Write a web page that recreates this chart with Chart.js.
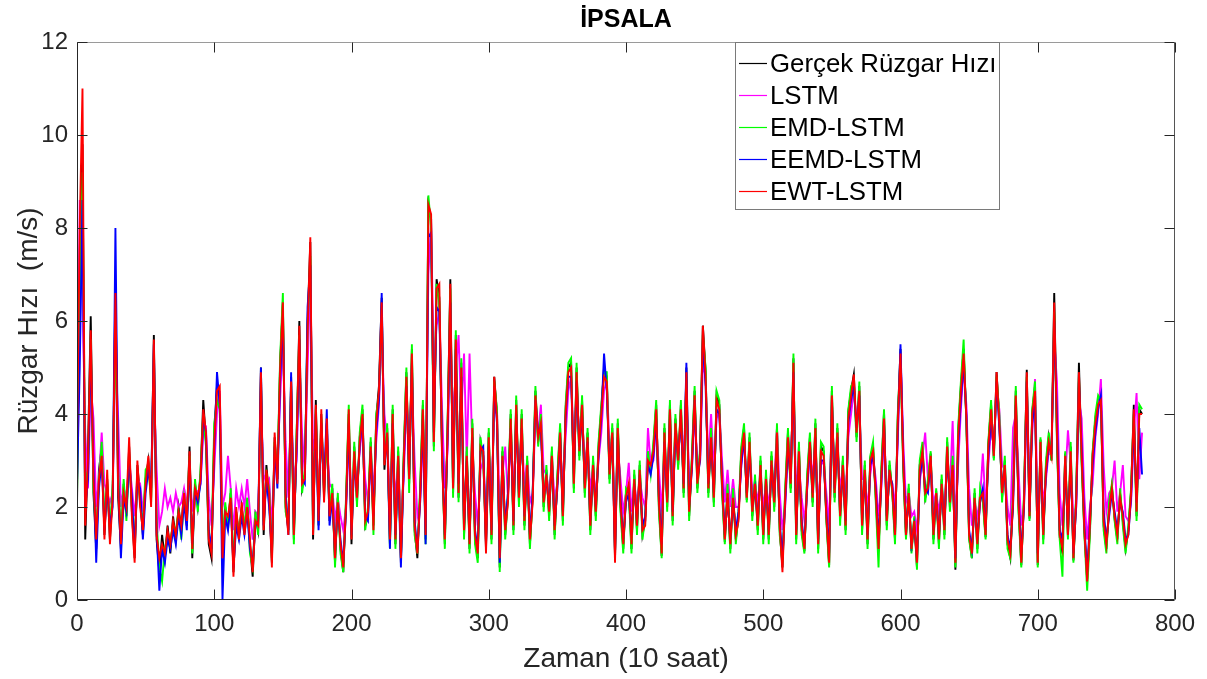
<!DOCTYPE html>
<html><head><meta charset="utf-8">
<script src="https://cdn.jsdelivr.net/npm/chart.js@4.4.1/dist/chart.umd.min.js"></script>
<style>html,body{margin:0;padding:0;background:#fff;}canvas{display:block;}</style>
</head><body>
<canvas id="c" width="1207" height="679"></canvas>
<script>
// ---- text ----
const chartTitle = 'İPSALA';
const xAxisTitle = 'Zaman (10 saat)';
const yAxisTitle = 'Rüzgar Hızı  (m/s)';
const seriesNames = ['Gerçek Rüzgar Hızı', 'LSTM', 'EMD-LSTM', 'EEMD-LSTM', 'EWT-LSTM'];
// ---- ticks ----
const xTickValues = [0, 100, 200, 300, 400, 500, 600, 700, 800];
const yTickValues = [0, 2, 4, 6, 8, 10, 12];
// time index of the n-th sample = n * timeStep (10 h units)
const timeStep = 2;
// ---- series (m/s) ----
const actualSpeed = [
2.0,7.5,9.8,1.3,3.2,6.1,2.3,1.1,2.8,3.3,
1.4,2.6,1.3,2.3,6.8,2.2,1.1,2.5,1.8,3.3,
1.9,0.9,2.9,2.2,1.4,2.6,3.0,2.2,5.7,1.3,
0.6,1.4,0.9,1.6,1.0,1.8,1.3,2.0,1.5,2.4,
1.6,3.3,0.9,2.5,2.0,2.7,4.3,3.4,1.2,0.9,
3.6,4.6,4.4,0.9,2.0,1.6,2.3,0.6,1.9,1.4,
2.0,1.5,2.1,1.2,0.5,1.8,1.5,5.0,1.4,2.9,
2.2,0.8,3.5,2.6,5.1,6.4,2.0,1.5,4.8,1.3,
3.5,6.0,2.4,2.7,6.0,7.7,1.3,4.3,1.6,4.0,
2.2,3.8,1.7,2.4,0.8,2.2,1.1,0.6,2.1,4.0,
1.2,3.3,2.1,3.5,4.1,1.6,1.8,3.4,1.6,3.9,
4.6,6.5,2.8,3.7,1.2,4.1,1.2,3.2,0.8,3.0,
4.9,2.5,5.4,1.5,0.9,2.3,4.2,1.3,8.5,8.2,
3.3,6.9,6.5,3.1,1.2,3.7,6.9,2.3,5.7,2.2,
5.1,1.4,3.2,1.1,3.8,1.3,0.9,3.4,3.1,1.1,
3.6,1.3,4.8,4.0,0.7,3.2,1.4,2.2,4.0,1.5,
4.3,2.1,4.0,1.6,3.0,1.2,2.2,4.5,3.4,3.9,
2.0,2.8,1.8,3.2,1.4,2.6,3.7,1.7,4.1,5.0,
5.1,2.4,5.0,3.1,4.3,2.3,3.6,1.5,3.0,1.8,
3.3,4.1,5.0,4.8,2.6,3.7,0.9,3.8,2.0,1.1,
2.3,2.4,1.1,2.7,1.5,2.9,1.4,1.7,3.1,2.8,
3.3,4.2,2.0,0.95,3.7,2.0,4.2,1.7,3.9,2.9,
4.2,2.3,5.0,1.8,3.0,4.5,2.4,3.2,5.9,4.9,
2.3,3.6,2.1,4.4,4.2,2.4,1.25,2.4,1.1,2.3,
1.3,1.8,3.2,3.7,2.15,3.5,1.8,2.6,1.5,3.0,
1.3,2.7,1.3,3.1,2.0,3.7,1.5,0.7,2.3,3.6,
2.4,5.2,1.3,3.3,1.5,1.05,2.6,3.5,2.1,3.8,
1.1,3.3,3.2,1.75,0.75,4.5,2.2,3.7,1.75,3.0,
1.5,4.05,4.5,4.85,3.5,4.6,1.5,2.9,1.2,3.05,
3.3,2.2,1.05,2.7,4.05,1.6,2.9,2.35,1.3,3.9,
5.4,2.9,1.35,2.4,1.05,1.75,0.7,2.9,3.3,2.2,
2.5,3.15,1.3,2.35,1.2,2.6,1.4,3.4,2.0,3.0,
0.65,3.6,4.6,5.4,3.85,1.35,0.9,2.3,1.1,2.3,
2.2,1.35,3.35,4.2,3.05,4.9,3.9,2.2,3.0,1.2,
0.9,2.2,4.5,2.0,0.75,2.2,4.95,1.75,4.05,4.6,
0.75,3.45,1.3,2.9,3.5,3.0,6.6,3.5,1.35,1.0,
3.15,1.35,3.3,0.85,2.2,5.1,3.0,1.45,0.45,1.5,
3.15,3.9,4.3,4.4,1.6,1.1,2.0,2.45,1.75,1.3,
2.3,1.7,1.1,1.5,2.35,4.2,1.8,4.1,4.0
];
const lstmPred = [
2.4,8.6,6.5,3.6,2.4,4.6,3.9,2.0,2.6,3.6,
2.5,2.3,2.1,2.3,5.3,3.9,2.0,2.4,2.2,3.0,
2.4,1.8,2.6,2.5,1.9,2.5,2.9,2.4,4.6,2.8,
1.6,1.9,2.4,2.0,2.2,1.9,2.3,2.0,2.1,2.4,
2.0,2.9,1.9,2.4,2.3,2.5,3.6,3.7,2.2,1.6,
2.8,4.0,4.5,2.0,2.3,3.1,2.4,1.5,2.4,2.0,
2.4,2.0,2.6,1.9,1.3,1.9,1.8,4.1,2.7,2.5,
2.6,1.6,2.8,2.9,4.3,5.7,3.4,2.2,3.9,2.6,
3.0,5.1,3.6,2.7,5.0,6.9,3.2,3.6,2.4,3.5,
2.8,3.4,2.5,2.4,1.7,2.2,1.8,1.5,2.0,3.4,
2.3,2.9,2.6,3.2,3.8,2.6,2.1,3.0,2.4,3.4,
4.2,5.8,4.0,3.4,2.2,3.3,2.2,2.9,1.8,2.6,
4.2,3.4,4.7,3.0,1.8,2.1,3.5,2.4,7.0,8.1,
4.9,5.9,6.2,4.1,2.4,3.2,5.8,3.9,4.9,5.7,
4.0,5.3,3.0,5.3,3.3,2.3,1.6,2.8,3.0,1.9,
3.0,2.2,4.0,4.1,1.9,2.7,3.3,2.2,3.6,2.3,
3.7,2.8,3.6,2.5,3.0,2.1,2.3,3.9,3.6,4.2,
2.8,2.7,2.3,3.0,2.2,2.5,3.3,2.5,3.5,4.5,
4.8,3.3,4.4,3.6,3.9,3.0,3.3,2.4,2.8,2.3,
3.0,3.6,4.5,4.7,3.3,3.4,1.9,3.3,2.6,1.9,
2.3,2.95,1.9,2.5,2.1,2.6,2.2,2.0,3.7,2.9,
3.0,3.8,2.8,1.9,3.2,2.6,3.7,2.5,3.5,3.1,
3.8,3.0,4.4,2.6,2.8,4.0,3.0,3.0,5.1,4.8,
3.0,4.0,2.8,3.9,4.1,3.0,2.1,2.8,2.0,2.6,
2.0,2.0,2.9,3.4,2.7,3.2,2.4,2.5,2.1,2.7,
2.0,2.5,2.0,2.8,2.5,3.7,2.3,1.5,2.0,3.2,
2.8,4.5,2.4,2.9,2.2,1.7,2.4,3.1,2.7,3.4,
2.0,2.9,3.0,2.3,1.6,3.8,2.9,3.3,2.4,2.8,
2.2,3.5,4.0,4.5,3.8,4.2,2.6,2.6,2.0,2.7,
3.1,2.6,1.8,2.4,3.6,2.4,2.6,2.5,2.0,3.4,
5.3,3.4,2.1,2.3,1.8,1.9,1.5,2.5,3.1,3.6,
2.6,2.9,2.1,2.3,1.9,2.4,2.0,3.0,2.4,3.85,
1.7,2.9,4.1,5.0,4.2,2.4,1.6,2.1,1.8,2.2,
3.15,2.0,2.9,3.7,3.3,4.5,4.1,2.9,2.8,2.0,
1.6,3.7,4.0,2.8,1.6,2.0,4.4,2.6,3.6,4.75,
1.8,2.9,2.1,2.6,3.2,3.1,5.6,4.7,2.3,1.6,
2.6,3.65,2.9,1.8,2.0,4.3,3.9,2.2,1.3,2.0,
2.5,3.5,4.0,4.75,2.9,1.9,2.3,2.4,3.0,1.9,
2.3,2.9,1.8,1.7,2.1,3.6,4.45,2.6,3.6
];
const emdLstmPred = [
2.2,6.5,9.2,2.5,2.8,5.6,2.4,1.4,2.5,3.4,
1.7,2.5,1.5,2.5,5.8,2.8,1.3,2.6,1.7,3.1,
2.0,1.2,2.7,2.1,1.6,2.8,2.9,2.1,5.3,1.7,
0.7,0.4,1.1,1.4,1.3,1.6,1.5,1.9,1.3,2.2,
1.8,3.1,1.0,2.6,1.9,2.8,4.0,3.3,1.4,1.2,
3.8,4.3,4.1,1.1,2.1,1.5,2.4,0.8,1.8,1.5,
1.9,1.6,2.2,1.0,0.7,1.9,1.4,4.7,1.7,2.7,
2.4,0.9,3.4,2.7,5.2,6.6,1.9,1.6,4.6,1.2,
3.6,5.7,2.3,2.8,5.9,7.4,1.5,4.1,1.8,3.9,
2.3,3.6,1.9,2.5,0.7,2.3,1.0,0.6,2.2,4.2,
1.4,3.4,2.0,3.6,4.2,1.5,2.0,3.5,1.4,4.0,
4.4,6.3,3.0,3.8,1.1,4.2,1.1,3.3,0.9,3.1,
5.0,2.3,5.5,1.4,1.0,2.4,4.3,1.2,8.7,8.0,
3.2,6.8,6.4,3.2,1.1,3.8,6.7,2.2,5.8,2.1,
5.2,1.3,3.3,1.0,3.9,1.2,0.8,3.5,3.0,1.3,
3.7,1.2,4.7,4.1,0.6,3.3,1.3,2.3,4.1,1.4,
4.4,2.0,4.1,1.5,3.1,1.1,2.3,4.6,3.3,4.0,
1.9,2.9,1.7,3.3,1.3,2.7,3.8,1.6,4.2,5.1,
5.2,2.3,5.1,3.0,4.4,2.2,3.7,1.4,3.1,1.7,
3.4,4.2,4.9,4.9,2.5,3.8,1.0,3.9,1.9,1.0,
2.4,2.3,1.0,2.8,1.4,3.0,1.3,1.8,3.2,2.7,
3.4,4.3,1.9,0.9,3.8,1.9,4.3,1.6,4.0,2.8,
4.3,2.2,4.8,1.7,3.1,4.6,2.3,3.3,5.7,5.0,
2.2,3.7,2.0,4.5,4.3,2.3,1.2,2.5,1.0,2.4,
1.2,1.9,3.3,3.8,2.1,3.6,1.7,2.7,1.4,3.1,
1.2,2.8,1.2,3.2,1.9,3.8,1.4,0.8,2.4,3.7,
2.3,5.3,1.2,3.4,1.4,1.0,2.7,3.6,2.0,3.9,
1.0,3.4,3.3,1.7,0.7,4.6,2.1,3.8,1.6,3.1,
1.4,4.1,4.6,4.7,3.4,4.7,1.4,3.0,1.1,3.1,
3.4,2.1,0.7,2.8,4.1,1.5,3.0,2.3,1.2,4.0,
5.2,2.8,1.3,2.5,1.0,1.8,0.65,3.0,3.4,2.1,
2.6,3.2,1.2,2.4,1.1,2.7,1.3,3.5,1.9,3.1,
0.7,3.7,4.7,5.6,3.8,1.3,0.9,2.4,1.0,2.4,
2.1,1.3,3.4,4.3,3.0,4.8,4.0,2.1,3.1,1.1,
0.9,2.3,4.6,1.9,0.7,2.3,4.8,1.7,4.1,4.7,
0.7,3.5,1.2,3.0,3.6,3.0,6.2,3.4,1.3,0.5,
3.2,1.3,3.4,0.8,2.3,4.8,2.9,1.4,0.2,1.4,
3.2,4.0,4.4,4.3,1.5,1.0,2.1,2.5,1.7,1.2,
2.4,1.6,1.0,1.6,2.4,4.0,1.7,4.2,4.1
];
const eemdLstmPred = [
2.5,5.0,8.6,2.0,2.6,5.4,2.9,0.8,2.4,3.0,
1.5,2.4,1.6,2.0,8.0,2.6,0.9,2.2,1.9,3.0,
2.2,1.1,2.6,2.4,1.3,2.3,2.8,2.4,5.5,1.5,
0.2,1.1,0.8,1.3,1.1,1.5,1.2,1.8,1.4,2.1,
1.5,3.0,1.2,2.3,2.1,2.5,3.9,3.6,1.5,1.1,
3.2,4.9,4.2,0.0,1.8,1.5,2.1,0.7,1.6,1.3,
1.8,1.4,1.9,1.1,0.8,1.6,1.7,5.0,1.6,2.6,
2.0,1.0,3.3,2.4,4.7,6.1,2.3,1.4,4.9,1.5,
3.2,5.6,2.6,2.5,6.3,7.2,1.6,4.0,1.5,3.8,
2.4,4.1,1.6,2.2,1.0,2.0,1.3,0.8,1.9,3.8,
1.4,3.0,2.3,3.3,3.9,1.8,1.7,3.2,1.8,3.6,
4.3,6.6,3.0,3.5,1.1,3.8,1.4,2.9,0.7,2.8,
4.6,2.7,5.1,1.7,1.1,2.1,3.9,1.2,7.8,7.9,
3.6,6.3,6.2,3.3,1.4,3.5,6.4,2.6,5.4,2.5,
4.8,1.6,3.0,1.3,3.5,1.5,1.1,3.2,3.3,1.2,
3.3,1.5,4.6,3.8,0.8,3.0,1.6,2.3,3.7,1.7,
4.0,2.3,3.7,1.8,2.8,1.4,2.3,4.3,3.6,3.6,
2.2,2.6,2.0,3.0,1.6,2.4,3.5,1.9,3.9,4.8,
4.8,2.7,4.7,3.3,4.0,2.5,3.4,1.7,2.8,2.0,
3.1,3.9,5.3,4.5,2.8,3.5,1.0,3.5,2.2,1.3,
2.1,2.3,1.4,2.5,1.7,2.7,1.6,1.8,2.9,2.7,
3.1,3.9,2.2,1.2,3.4,2.2,3.9,1.9,3.6,3.1,
3.9,2.5,5.1,2.0,2.8,4.3,2.6,3.0,5.6,4.6,
2.5,3.4,2.3,4.1,4.0,2.6,1.4,2.2,1.3,2.1,
1.5,1.9,2.9,3.5,2.3,3.2,2.0,2.4,1.7,2.8,
1.5,2.5,1.5,2.9,2.2,3.4,1.7,0.9,2.1,3.3,
2.6,4.9,1.5,3.0,1.7,1.2,2.4,3.3,2.3,3.5,
1.3,3.0,3.0,1.9,1.0,4.3,2.4,3.5,1.9,2.8,
1.7,3.8,4.3,4.6,3.7,4.4,1.7,2.7,1.4,2.9,
3.1,2.4,1.3,2.5,3.8,1.8,2.7,2.5,1.5,3.6,
5.5,3.1,1.5,2.2,1.2,1.6,0.9,2.6,3.1,2.4,
2.3,3.0,1.5,2.2,1.4,2.4,1.6,3.1,2.2,2.8,
0.9,3.3,4.3,5.1,4.0,1.5,1.1,2.1,1.3,2.1,
2.4,1.5,3.1,3.9,3.2,4.7,3.7,2.4,2.8,1.4,
1.1,2.0,4.2,2.2,1.0,2.0,4.7,1.9,3.8,4.3,
1.0,3.2,1.5,2.7,3.3,3.2,6.0,3.9,1.5,1.3,
2.9,1.5,3.0,1.0,2.0,4.7,3.3,1.6,0.6,1.7,
2.9,3.6,4.1,4.4,1.9,1.3,1.8,2.3,1.9,1.5,
2.1,1.9,1.3,1.4,2.2,3.8,2.1,3.7,2.7
];
const ewtLstmPred = [
3.3,8.0,11.0,1.6,3.0,5.8,2.6,1.3,2.6,3.1,
1.3,2.8,1.2,2.2,6.6,2.4,1.2,2.3,2.0,3.5,
1.8,0.8,3.0,2.0,1.5,2.5,3.1,2.0,5.6,1.4,
0.9,1.2,1.0,1.5,1.2,1.7,1.4,1.9,1.6,2.3,
1.7,3.2,1.1,2.4,2.2,2.6,4.1,3.6,1.3,1.0,
3.4,4.5,4.6,0.9,1.9,1.8,2.2,0.5,2.0,1.3,
2.1,1.4,2.0,1.3,0.6,1.7,1.6,4.9,1.5,2.8,
2.3,0.7,3.6,2.5,5.0,6.4,2.1,1.4,4.7,1.4,
3.4,5.9,2.5,2.6,5.8,7.8,1.4,4.2,1.7,4.1,
2.1,3.9,1.8,2.3,0.9,2.1,1.2,0.7,2.0,4.1,
1.3,3.2,2.2,3.4,4.0,1.7,1.9,3.3,1.5,3.8,
4.5,6.4,2.9,3.6,1.3,4.0,1.3,3.1,0.9,2.9,
4.8,2.6,5.3,1.6,1.0,2.2,4.1,1.4,8.5,8.3,
3.4,6.7,6.8,3.0,1.3,3.6,6.8,2.4,5.6,2.3,
5.0,1.5,3.1,1.2,3.7,1.4,1.0,3.3,3.2,1.0,
3.5,1.4,4.8,3.9,0.9,3.1,1.5,2.1,3.9,1.6,
4.2,2.2,3.9,1.7,2.9,1.3,2.1,4.4,3.5,3.8,
2.1,2.7,1.9,3.1,1.5,2.5,3.6,1.8,4.0,4.9,
5.0,2.5,4.9,3.2,4.2,2.4,3.5,1.6,2.9,1.9,
3.2,4.0,4.8,4.7,2.7,3.6,0.8,3.7,2.1,1.2,
2.2,2.5,1.2,2.6,1.6,2.8,1.5,1.6,3.0,2.9,
3.2,4.1,2.1,1.0,3.6,2.1,4.1,1.8,3.8,3.0,
4.1,2.4,4.9,1.9,2.9,4.4,2.5,3.1,5.9,4.8,
2.4,3.5,2.2,4.3,4.1,2.5,1.3,2.3,1.2,2.2,
1.4,1.7,3.1,3.6,2.2,3.4,1.9,2.5,1.6,2.9,
1.4,2.6,1.4,3.0,2.1,3.6,1.6,0.6,2.2,3.5,
2.5,5.1,1.4,3.2,1.6,1.1,2.5,3.4,2.2,3.7,
1.2,3.2,3.1,1.8,0.8,4.4,2.3,3.6,1.8,2.9,
1.6,3.9,4.4,4.85,3.6,4.5,1.6,2.8,1.3,3.0,
3.2,2.3,1.1,2.6,3.9,1.7,2.8,2.4,1.4,3.8,
5.3,3.0,1.4,2.3,1.1,1.7,0.8,2.8,3.2,2.3,
2.4,3.1,1.4,2.3,1.3,2.5,1.5,3.3,2.1,2.9,
0.8,3.5,4.5,5.3,3.9,1.4,1.0,2.2,1.2,2.2,
2.3,1.4,3.3,4.1,3.1,4.9,3.8,2.3,2.9,1.3,
1.0,2.1,4.4,2.1,0.8,2.1,4.9,1.8,4.0,4.5,
0.8,3.4,1.4,2.8,3.4,3.1,6.4,3.6,1.4,1.1,
3.1,1.4,3.2,0.9,2.1,4.9,3.1,1.5,0.4,1.6,
3.1,3.8,4.2,4.3,1.7,1.2,1.9,2.4,1.8,1.4,
2.2,1.8,1.2,1.4,2.3,4.1,1.9,4.0,4.0
];

// ---- styling ----
const FONT = "'Liberation Sans', Arimo, Arial, Helvetica, sans-serif";
const TEXT = '#262626';
const seriesColors = ['#000000', '#ff00ff', '#00ff00', '#0000ff', '#ff0000'];
const allSeries = [actualSpeed, lstmPred, emdLstmPred, eemdLstmPred, ewtLstmPred];

const datasets = allSeries.map((s, k) => ({
  label: seriesNames[k],
  data: s.map((v, i) => ({ x: i * timeStep, y: v })),
  borderColor: seriesColors[k],
  backgroundColor: seriesColors[k],
  borderWidth: 1.9,
  pointRadius: 0,
  pointHoverRadius: 0,
  tension: 0,
  fill: false,
  order: allSeries.length - k
}));

const framePlugin = {
  id: 'frame',
  afterDatasetsDraw(chart) {
    const { ctx, chartArea: a, scales: { x, y } } = chart;
    const L = Math.round(a.left) + 0.5, R = Math.round(a.right) - 0.5;
    const T = Math.round(a.top) + 0.5, B = Math.round(a.bottom) - 0.5;
    ctx.save();
    ctx.lineWidth = 1;
    ctx.strokeStyle = '#9a9a9a';
    ctx.beginPath(); ctx.moveTo(L, T); ctx.lineTo(R, T); ctx.stroke();
    ctx.strokeStyle = '#555555';
    ctx.beginPath(); ctx.moveTo(R, T); ctx.lineTo(R, B); ctx.stroke();
    ctx.strokeStyle = TEXT;
    ctx.beginPath(); ctx.moveTo(L, T); ctx.lineTo(L, B); ctx.lineTo(R, B); ctx.stroke();
    const tl = 10;
    ctx.beginPath();
    xTickValues.forEach(v => {
      const px = Math.round(x.getPixelForValue(v)) + 0.5;
      ctx.moveTo(px, B); ctx.lineTo(px, B - tl);
      ctx.moveTo(px, T); ctx.lineTo(px, T + tl);
    });
    yTickValues.forEach(v => {
      const py = Math.round(y.getPixelForValue(v)) + 0.5;
      ctx.moveTo(L, py); ctx.lineTo(L + tl, py);
      ctx.moveTo(R, py); ctx.lineTo(R - tl, py);
    });
    ctx.stroke();
    ctx.restore();
  },
  afterDraw(chart) {
    const { ctx } = chart;
    const box = { l: 735.5, t: 42.5, r: 999.5, b: 209.5 };
    ctx.save();
    ctx.fillStyle = '#ffffff';
    ctx.fillRect(box.l, box.t, box.r - box.l, box.b - box.t);
    ctx.strokeStyle = '#7a7a7a';
    ctx.lineWidth = 1;
    ctx.strokeRect(box.l, box.t, box.r - box.l, box.b - box.t);
    ctx.font = '25.8px ' + FONT;
    ctx.textBaseline = 'middle';
    ctx.textAlign = 'left';
    chart.data.datasets.forEach((ds, k) => {
      const cy = 63.5 + k * 32;
      ctx.strokeStyle = ds.borderColor;
      ctx.lineWidth = 1.2;
      ctx.beginPath(); ctx.moveTo(739, cy); ctx.lineTo(767, cy); ctx.stroke();
      ctx.fillStyle = '#000000';
      ctx.fillText(ds.label, 770, cy + 1);
    });
    ctx.restore();
  }
};

new Chart(document.getElementById('c'), {
  type: 'line',
  data: { datasets },
  options: {
    responsive: false,
    animation: false,
    devicePixelRatio: 1,
    events: [],
    layout: { padding: { top: 0, right: 32, left: 0, bottom: 0 } },
    scales: {
      x: {
        type: 'linear',
        min: xTickValues[0],
        max: xTickValues[xTickValues.length - 1],
        afterBuildTicks: s => { s.ticks = xTickValues.map(v => ({ value: v })); },
        afterFit: s => { s.height = 79; },
        grid: { display: false, drawTicks: false },
        border: { display: false },
        ticks: { font: { family: FONT, size: 24 }, color: TEXT, padding: 10, maxRotation: 0, autoSkip: false },
        title: { display: true, text: xAxisTitle, font: { family: FONT, size: 28 }, color: TEXT, padding: { top: 0, bottom: 3 } }
      },
      y: {
        type: 'linear',
        min: yTickValues[0],
        max: yTickValues[yTickValues.length - 1],
        afterBuildTicks: s => { s.ticks = yTickValues.map(v => ({ value: v })); },
        afterFit: s => { s.width = 77; },
        grid: { display: false, drawTicks: false },
        border: { display: false },
        ticks: { font: { family: FONT, size: 24 }, color: TEXT, padding: 9, autoSkip: false },
        title: { display: true, text: yAxisTitle, font: { family: FONT, size: 28 }, color: TEXT, padding: { top: 12, bottom: 0 } }
      }
    },
    plugins: {
      legend: { display: false },
      tooltip: { enabled: false },
      title: {
        display: true,
        text: chartTitle,
        fullSize: false,
        color: '#000000',
        font: { family: FONT, size: 25, weight: 'bold' },
        padding: { top: 5, bottom: 7 }
      }
    }
  },
  plugins: [framePlugin]
});
</script>
</body></html>
